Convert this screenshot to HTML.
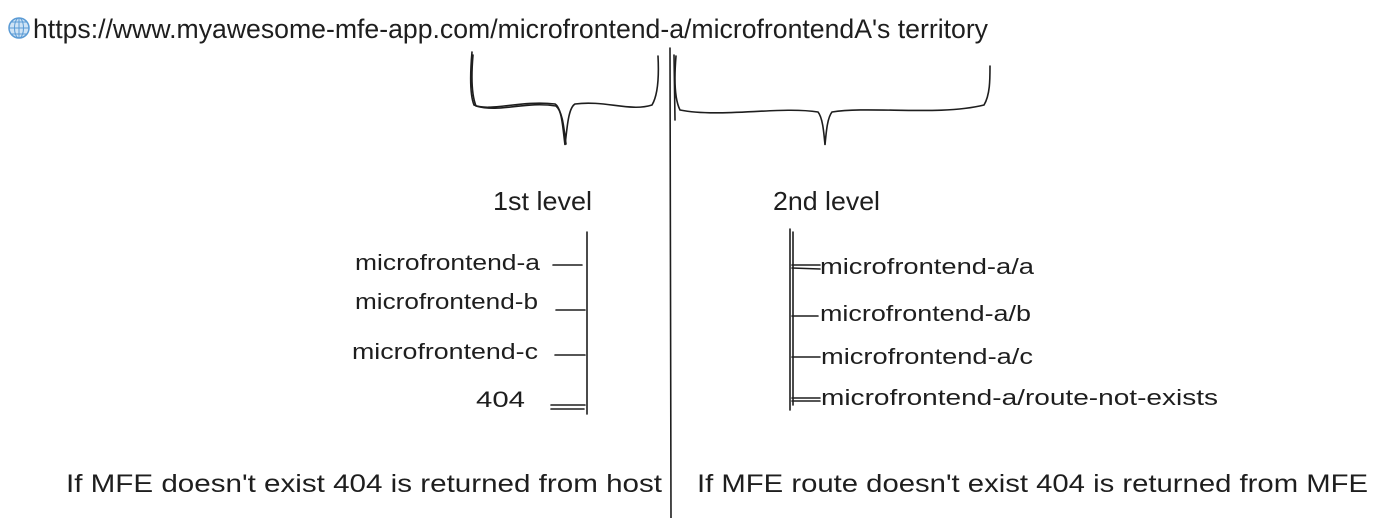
<!DOCTYPE html>
<html><head><meta charset="utf-8"><style>
html,body{margin:0;padding:0;background:#fff;}
svg{display:block}
text{font-family:"Liberation Sans",sans-serif;fill:#1e1e1e;}
</style></head><body>
<svg width="1392" height="518" viewBox="0 0 1392 518" xmlns="http://www.w3.org/2000/svg">
<g>
<circle cx="19" cy="28" r="10" fill="#cfe3f5" stroke="#5b9bd5" stroke-width="1.5"/>
<ellipse cx="19" cy="28" rx="4.5" ry="10" fill="none" stroke="#5b9bd5" stroke-width="1"/>
<line x1="9" y1="28" x2="29" y2="28" stroke="#5b9bd5" stroke-width="1"/>
<line x1="11" y1="22" x2="27" y2="22" stroke="#5b9bd5" stroke-width="1"/>
<line x1="11" y1="34" x2="27" y2="34" stroke="#5b9bd5" stroke-width="1"/>
<line x1="19" y1="18" x2="19" y2="38" stroke="#5b9bd5" stroke-width="1"/>
</g>
<text x="33" y="38" font-size="27" textLength="955" lengthAdjust="spacingAndGlyphs">https://www.myawesome-mfe-app.com/microfrontend-a/microfrontendA's territory</text>
<g fill="none" stroke="#1e1e1e" stroke-width="1.6" stroke-linecap="round">
<path d="M472 52 C470 75 470 95 474 105 C490 112 520 100 555 104 C562 108 563 130 565 145 C567 130 568 108 575 104 C605 100 630 112 652 105 C658 95 659 75 658 56"/>
<path d="M473 55 C471 78 472 96 476 106 C500 113 525 101 556 106 C563 112 564 130 566 144"/>
<path d="M676 56 C674 80 675 100 680 110 C720 118 780 106 818 112 C823 118 824 135 825 145 C826 135 827 118 832 112 C870 106 940 116 984 105 C990 95 990 80 990 66"/>
<line x1="670" y1="48" x2="671" y2="518"/>
<line x1="674" y1="55" x2="675" y2="120"/>
<line x1="587" y1="232" x2="587" y2="414"/>
<line x1="553" y1="265" x2="582" y2="265"/>
<line x1="556" y1="310" x2="585" y2="310"/>
<line x1="555" y1="355" x2="585" y2="355"/>
<line x1="551" y1="405" x2="585" y2="405"/>
<line x1="551" y1="409" x2="584" y2="409"/>
<line x1="790" y1="229" x2="790" y2="410"/>
<line x1="793" y1="232" x2="793" y2="405"/>
<line x1="792" y1="265" x2="820" y2="265"/>
<line x1="792" y1="268" x2="820" y2="269"/>
<line x1="792" y1="316" x2="818" y2="316"/>
<line x1="792" y1="357" x2="820" y2="357"/>
<line x1="792" y1="398" x2="820" y2="398"/>
<line x1="792" y1="401" x2="820" y2="401"/>
</g>
<g font-size="26">
<text x="493" y="210" textLength="99" lengthAdjust="spacingAndGlyphs">1st level</text>
<text x="773" y="210" textLength="107" lengthAdjust="spacingAndGlyphs">2nd level</text>
</g>
<g font-size="22">
<text x="355" y="270" textLength="185" lengthAdjust="spacingAndGlyphs">microfrontend-a</text>
<text x="355" y="309" textLength="183" lengthAdjust="spacingAndGlyphs">microfrontend-b</text>
<text x="352" y="359" textLength="186" lengthAdjust="spacingAndGlyphs">microfrontend-c</text>
<text x="476" y="407" textLength="49" lengthAdjust="spacingAndGlyphs">404</text>
<text x="820" y="274" textLength="214" lengthAdjust="spacingAndGlyphs">microfrontend-a/a</text>
<text x="820" y="321" textLength="211" lengthAdjust="spacingAndGlyphs">microfrontend-a/b</text>
<text x="821" y="364" textLength="212" lengthAdjust="spacingAndGlyphs">microfrontend-a/c</text>
<text x="821" y="405" textLength="397" lengthAdjust="spacingAndGlyphs">microfrontend-a/route-not-exists</text>
</g>
<g font-size="25">
<text x="66" y="492" textLength="596" lengthAdjust="spacingAndGlyphs">If MFE doesn't exist 404 is returned from host</text>
<text x="697" y="492" textLength="671" lengthAdjust="spacingAndGlyphs">If MFE route doesn't exist 404 is returned from MFE</text>
</g>
</svg>
</body></html>
